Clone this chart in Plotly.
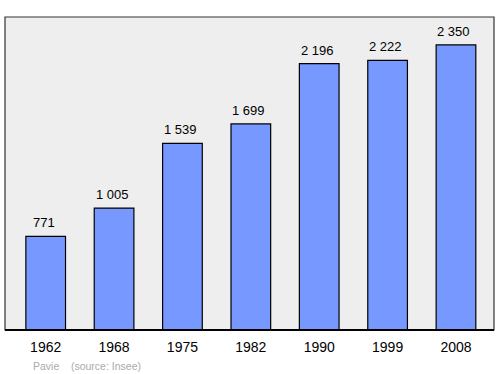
import plotly.graph_objects as go

years = ["1962", "1968", "1975", "1982", "1990", "1999", "2008"]
population = [771, 1005, 1539, 1699, 2196, 2222, 2350]
value_labels = ["771", "1 005", "1 539", "1 699", "2 196", "2 222", "2 350"]

fig = go.Figure()
fig.add_trace(go.Bar(
    x=years, y=population, width=0.58,
    marker=dict(color="#7799ff", line=dict(color="#000000", width=1.2)),
    hoverinfo="skip",
))

for i, (v, lab) in enumerate(zip(population, value_labels)):
    fig.add_annotation(x=i, y=v, text=lab, showarrow=False, yanchor="middle",
                       yshift=13.5, xshift=-2,
                       font=dict(family="Liberation Sans, Arial", size=13, color="#000000"))

fig.add_annotation(xref="paper", yref="paper", x=0.053, y=0, yshift=-28, xanchor="left", yanchor="top",
                   text="Pavie&nbsp;&nbsp;&nbsp;&nbsp;(source: Insee)", showarrow=False,
                   font=dict(family="Liberation Sans, Arial", size=10.5, color="#aaaaaa"))

fig.add_shape(type="rect", xref="paper", yref="paper", x0=0, y0=0, x1=1, y1=1,
              line=dict(color="#333333", width=1.2), layer="above")
fig.add_shape(type="line", xref="paper", yref="paper", x0=0, y0=0, x1=1, y1=0,
              line=dict(color="#000000", width=2), layer="above")

fig.update_layout(
    width=500, height=374,
    margin=dict(l=5, r=6, t=17, b=44),
    paper_bgcolor="#ffffff", plot_bgcolor="#eeeeee",
    showlegend=False,
    xaxis=dict(type="category", range=[-0.595, 6.556], showgrid=False, zeroline=False,
               ticks="", ticklabelstandoff=7,
               tickfont=dict(family="Liberation Sans, Arial", size=14, color="#000000"),
               fixedrange=True),
    yaxis=dict(range=[0, 2580], showgrid=False, zeroline=False, showticklabels=False,
               ticks="", fixedrange=True),
)

fig.write_html("out.html")
